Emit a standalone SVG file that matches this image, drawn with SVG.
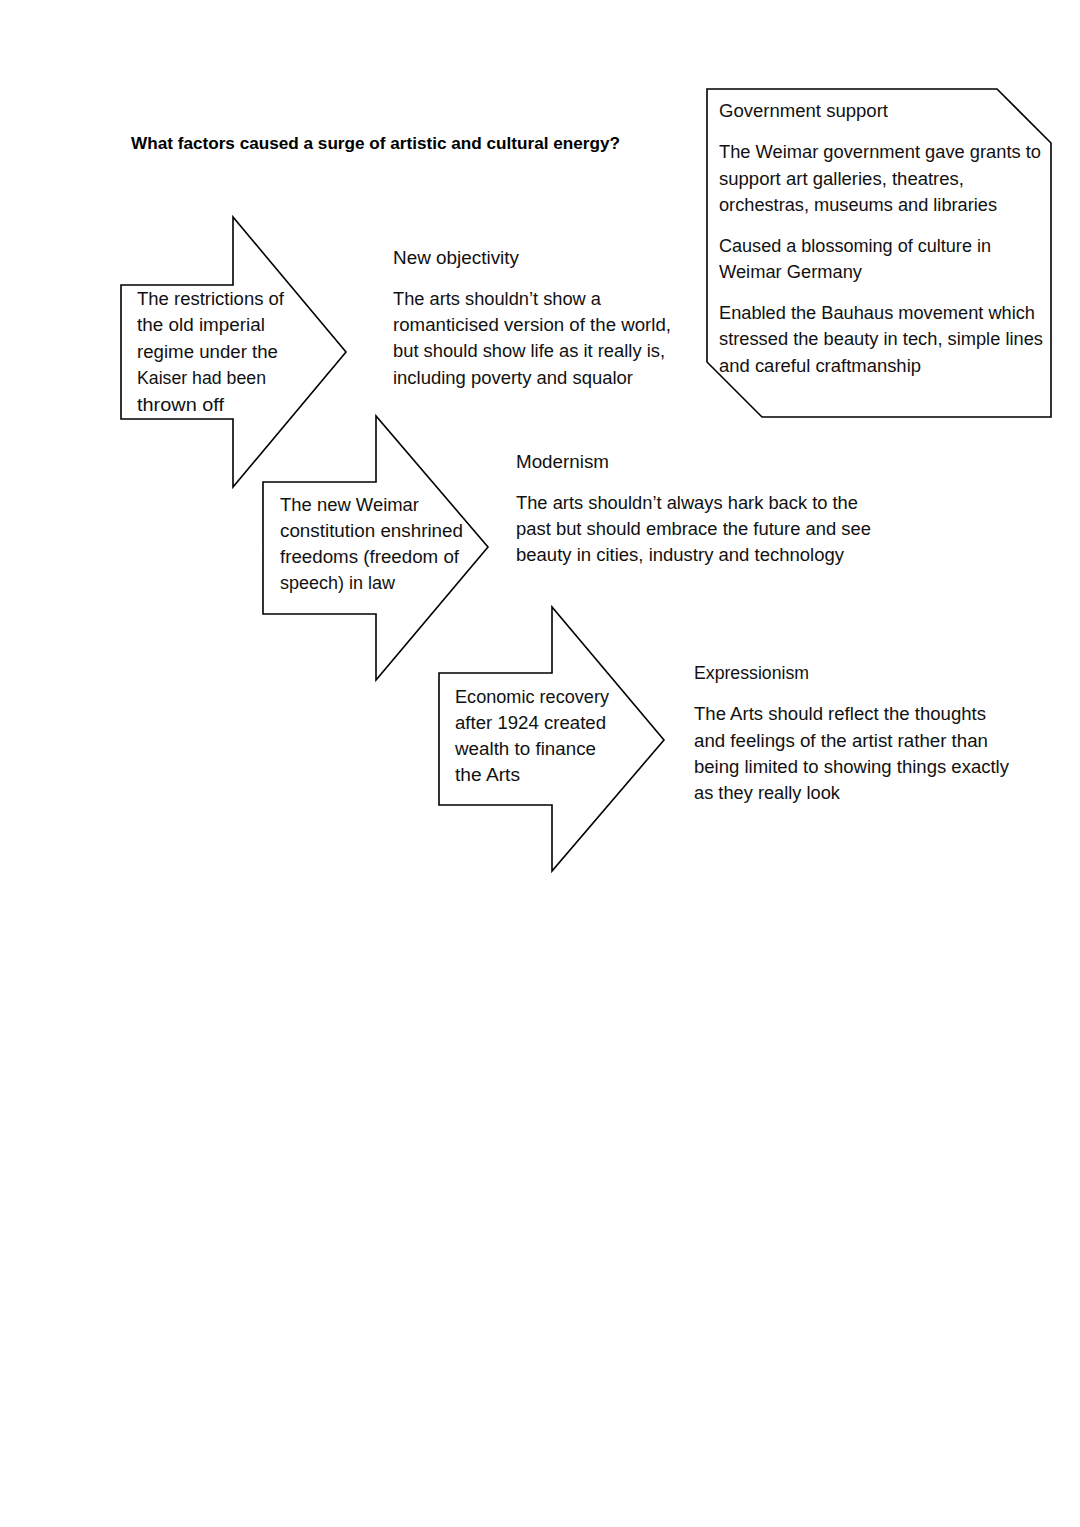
<svg xmlns="http://www.w3.org/2000/svg" width="1080" height="1527" viewBox="0 0 1080 1527">
<style>
.bg{fill:#ffffff}
.shape{fill:#ffffff;stroke:#000000;stroke-width:1.6;stroke-linejoin:miter}
.t{font-family:"Liberation Sans",Arial,sans-serif;font-size:17.5px;fill:#111111}
.title{font-family:"Liberation Sans",Arial,sans-serif;font-size:17px;font-weight:bold;fill:#000000}
</style>
<rect class="bg" x="0" y="0" width="1080" height="1527"/>

<g id="title">
<text class="title" x="131" y="149" textLength="489" lengthAdjust="spacingAndGlyphs">What factors caused a surge of artistic and cultural energy?</text>
</g>

<g id="government-support">
<path class="shape" d="M707,89 L997,89 L1051,143 L1051,417 L762,417 L707,362 Z"/>
<text class="t" x="719" y="117" textLength="169" lengthAdjust="spacingAndGlyphs">Government support</text>
<text class="t" x="719" y="158" textLength="322" lengthAdjust="spacingAndGlyphs">The Weimar government gave grants to</text>
<text class="t" x="719" y="184.5" textLength="245" lengthAdjust="spacingAndGlyphs">support art galleries, theatres,</text>
<text class="t" x="719" y="211" textLength="278" lengthAdjust="spacingAndGlyphs">orchestras, museums and libraries</text>
<text class="t" x="719" y="251.5" textLength="272" lengthAdjust="spacingAndGlyphs">Caused a blossoming of culture in</text>
<text class="t" x="719" y="278" textLength="143" lengthAdjust="spacingAndGlyphs">Weimar Germany</text>
<text class="t" x="719" y="318.5" textLength="316" lengthAdjust="spacingAndGlyphs">Enabled the Bauhaus movement which</text>
<text class="t" x="719" y="345" textLength="324" lengthAdjust="spacingAndGlyphs">stressed the beauty in tech, simple lines</text>
<text class="t" x="719" y="371.5" textLength="202" lengthAdjust="spacingAndGlyphs">and careful craftmanship</text>
</g>

<g id="arrow-restrictions">
<path class="shape" d="M121,285 L233,285 L233,217 L346,352 L233,487 L233,419 L121,419 Z"/>
<text class="t" x="137" y="304.5" textLength="147" lengthAdjust="spacingAndGlyphs">The restrictions of</text>
<text class="t" x="137" y="331" textLength="128" lengthAdjust="spacingAndGlyphs">the old imperial</text>
<text class="t" x="137" y="357.5" textLength="141" lengthAdjust="spacingAndGlyphs">regime under the</text>
<text class="t" x="137" y="384" textLength="129" lengthAdjust="spacingAndGlyphs">Kaiser had been</text>
<text class="t" x="137" y="410.5" textLength="87" lengthAdjust="spacingAndGlyphs">thrown off</text>
</g>

<g id="new-objectivity">
<text class="t" x="393" y="263.5" textLength="126" lengthAdjust="spacingAndGlyphs">New objectivity</text>
<text class="t" x="393" y="304.5" textLength="208" lengthAdjust="spacingAndGlyphs">The arts shouldn’t show a</text>
<text class="t" x="393" y="330.5" textLength="278" lengthAdjust="spacingAndGlyphs">romanticised version of the world,</text>
<text class="t" x="393" y="357" textLength="272" lengthAdjust="spacingAndGlyphs">but should show life as it really is,</text>
<text class="t" x="393" y="383.5" textLength="240" lengthAdjust="spacingAndGlyphs">including poverty and squalor</text>
</g>

<g id="arrow-constitution">
<path class="shape" d="M263,482 L376,482 L376,416 L488,547 L376,680 L376,614 L263,614 Z"/>
<text class="t" x="280" y="510.5" textLength="139" lengthAdjust="spacingAndGlyphs">The new Weimar</text>
<text class="t" x="280" y="536.5" textLength="183" lengthAdjust="spacingAndGlyphs">constitution enshrined</text>
<text class="t" x="280" y="563" textLength="179" lengthAdjust="spacingAndGlyphs">freedoms (freedom of</text>
<text class="t" x="280" y="589" textLength="115" lengthAdjust="spacingAndGlyphs">speech) in law</text>
</g>

<g id="modernism">
<text class="t" x="516" y="467.5" textLength="93" lengthAdjust="spacingAndGlyphs">Modernism</text>
<text class="t" x="516" y="508.5" textLength="342" lengthAdjust="spacingAndGlyphs">The arts shouldn’t always hark back to the</text>
<text class="t" x="516" y="535" textLength="355" lengthAdjust="spacingAndGlyphs">past but should embrace the future and see</text>
<text class="t" x="516" y="561" textLength="328" lengthAdjust="spacingAndGlyphs">beauty in cities, industry and technology</text>
</g>

<g id="arrow-economic">
<path class="shape" d="M439,673 L552,673 L552,607 L664,740 L552,871 L552,805 L439,805 Z"/>
<text class="t" x="455" y="702.5" textLength="154" lengthAdjust="spacingAndGlyphs">Economic recovery</text>
<text class="t" x="455" y="728.5" textLength="151" lengthAdjust="spacingAndGlyphs">after 1924 created</text>
<text class="t" x="455" y="755" textLength="141" lengthAdjust="spacingAndGlyphs">wealth to finance</text>
<text class="t" x="455" y="781" textLength="65" lengthAdjust="spacingAndGlyphs">the Arts</text>
</g>

<g id="expressionism">
<text class="t" x="694" y="678.5" textLength="115" lengthAdjust="spacingAndGlyphs">Expressionism</text>
<text class="t" x="694" y="720" textLength="292" lengthAdjust="spacingAndGlyphs">The Arts should reflect the thoughts</text>
<text class="t" x="694" y="746.5" textLength="294" lengthAdjust="spacingAndGlyphs">and feelings of the artist rather than</text>
<text class="t" x="694" y="772.5" textLength="315" lengthAdjust="spacingAndGlyphs">being limited to showing things exactly</text>
<text class="t" x="694" y="799" textLength="146" lengthAdjust="spacingAndGlyphs">as they really look</text>
</g>

<g id="connectors"></g>
</svg>
